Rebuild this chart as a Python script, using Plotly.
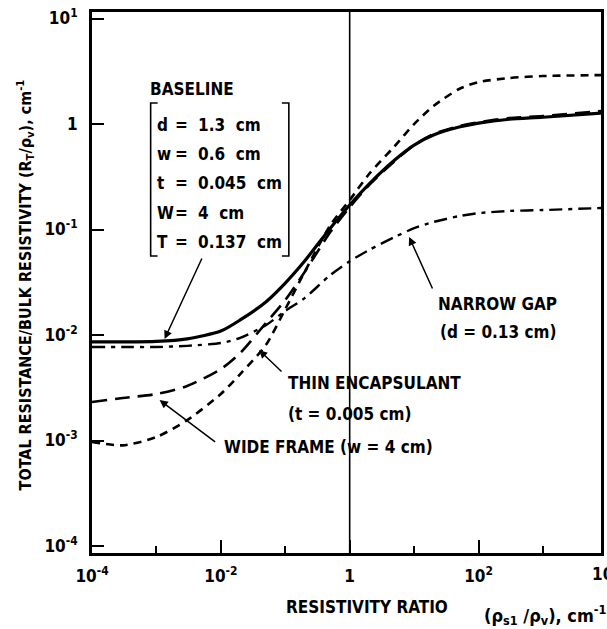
import plotly.graph_objects as go

# ---------------- data ----------------
x_grid = [1e-4, 3e-4, 1e-3, 3e-3, 0.01, 0.02, 0.05, 0.1, 0.2, 0.5, 1, 2, 5, 10, 20, 50, 100, 300, 1000, 8000]

y_baseline = [0.0086, 0.0086, 0.0087, 0.0092, 0.0109, 0.0139, 0.0206, 0.0311, 0.0503, 0.103,
              0.171, 0.27, 0.456, 0.632, 0.787, 0.937, 1.02, 1.11, 1.16, 1.27]
y_narrow_gap = [0.0077, 0.0077, 0.0077, 0.0079, 0.0084, 0.0094, 0.0124, 0.0169, 0.0224, 0.037,
                0.050, 0.064, 0.085, 0.103, 0.118, 0.134, 0.143, 0.150, 0.153, 0.160]
y_thin_encap = [0.00097, 0.00090, 0.00108, 0.00156, 0.00276, 0.00427, 0.00804, 0.0176, 0.0396, 0.110,
                0.190, 0.336, 0.618, 1.0, 1.48, 2.15, 2.50, 2.73, 2.85, 2.91]
y_wide_frame = [0.00232, 0.00253, 0.00276, 0.00329, 0.00476, 0.00675, 0.013, 0.0215, 0.0396, 0.0947,
                0.163, 0.264, 0.446, 0.632, 0.804, 0.957, 1.04, 1.14, 1.19, 1.33]

x_tick_vals = [1e-4, 1e-2, 1, 1e2]
x_tick_text = ["10<sup>-4</sup>", "10<sup>-2</sup>", "1", "10<sup>2</sup>"]
x_minor_vals = [1e-3, 1e-1, 1e1, 1e3]
y_tick_vals = [1e-4, 1e-3, 1e-2, 1e-1, 1, 10]
y_tick_text = ["10<sup>-4</sup>", "10<sup>-3</sup>", "10<sup>-2</sup>", "10<sup>-1</sup>", "1", "10<sup>1</sup>"]

baseline_params = [("d", "1.3  cm"), ("w", "0.6  cm"), ("t", "0.045  cm"), ("W", "4  cm"), ("T", "0.137  cm")]

# ---------------- layout helpers ----------------
W, H = 607, 629
ML, MR, MT, MB = 92, 3, 12, 76
PW, PH = W - ML - MR, H - MT - MB
FONT = "Liberation Sans Narrow, DejaVu Sans Condensed, Roboto Condensed, Liberation Sans, sans-serif"


def px(xp):
    return (xp - ML) / PW


def py(yp):
    return (H - MB - yp) / PH


fig = go.Figure()

fig.add_trace(go.Scatter(x=x_grid, y=y_thin_encap, mode="lines", line_shape="spline",
                         line=dict(color="black", width=2.6, dash="8px,6px", smoothing=0.7)))
fig.add_trace(go.Scatter(x=x_grid, y=y_wide_frame, mode="lines", line_shape="spline",
                         line=dict(color="black", width=2.6, dash="15px,8px", smoothing=0.7)))
fig.add_trace(go.Scatter(x=x_grid, y=y_narrow_gap, mode="lines", line_shape="spline",
                         line=dict(color="black", width=2.4, dash="13px,6px,4px,6px", smoothing=0.7)))
fig.add_trace(go.Scatter(x=x_grid, y=y_baseline, mode="lines", line_shape="spline",
                         line=dict(color="black", width=3.2, smoothing=0.7)))

# vertical reference line at ratio = 1
fig.add_shape(type="line", xref="x", yref="paper", x0=1, x1=1, y0=0, y1=1,
              line=dict(color="black", width=1.6))

anns = []


def text(s, xp, yp, size=17, xanchor="left", **kw):
    anns.append(dict(text=s, x=px(xp), y=py(yp), xref="paper", yref="paper", showarrow=False,
                     xanchor=xanchor, yanchor="middle", font=dict(size=size, family=FONT, color="black",
                                                                  weight="bold"), **kw))


def arrow(tipx, tipy, tailx, taily):
    anns.append(dict(text="", x=px(tipx), y=py(tipy), xref="paper", yref="paper", showarrow=True,
                     ax=tailx - tipx, ay=taily - tipy, arrowhead=2, arrowsize=1.1, arrowwidth=1.5,
                     arrowcolor="black", standoff=0))


text("BASELINE", 148, 89)
rows_y = [125, 154, 183, 213, 242]
for (name, val), yy in zip(baseline_params, rows_y):
    text(name, 155, yy)
    text("=", 182, yy, xanchor="center")
    text(val.replace(" ", "\u00a0"), 197, yy)

text("NARROW GAP", 438, 304)
text("(d = 0.13 cm)", 440, 332)
text("THIN ENCAPSULANT", 287, 383)
text("(t = 0.005 cm)", 287, 414)
text("WIDE FRAME (w = 4 cm)", 223, 447)
text("RESISTIVITY RATIO", 285, 607)
text("(ρ<sub>s1</sub> /ρ<sub>v</sub>), cm<sup>-1</sup>", 484, 615, size=18)
text("10<sup>4</sup>", 593, 573)
anns.append(dict(text="TOTAL RESISTANCE/BULK RESISTIVITY (R<sub>T</sub>/ρ<sub>v</sub>), cm<sup>-1</sup>",
                 x=px(25), y=py(285), xref="paper", yref="paper", showarrow=False, textangle=-90,
                 xanchor="center", yanchor="middle",
                 font=dict(size=16, family=FONT, color="black", weight="bold")))

arrow(165, 339, 203, 257)
arrow(411, 237, 435, 290)
arrow(260, 350, 284, 373)
arrow(160, 400, 217, 443)

# bracket around baseline parameters
for xv, dx in [(151, 7), (290, -7)]:
    fig.add_shape(type="path", xref="paper", yref="paper",
                  path=f"M {px(xv + dx)} {py(103)} L {px(xv)} {py(103)} L {px(xv)} {py(256)} L {px(xv + dx)} {py(256)}",
                  line=dict(color="black", width=1.6))

fig.update_layout(
    width=W, height=H, margin=dict(l=ML, r=MR, t=MT, b=MB),
    paper_bgcolor="white", plot_bgcolor="white", showlegend=False,
    font=dict(family=FONT, size=17, color="black", weight="bold"),
    annotations=anns,
    xaxis=dict(type="log", range=[-4, -4 + PW / 64.8], tickvals=x_tick_vals, ticktext=x_tick_text,
               ticks="inside", ticklen=13, tickwidth=2, tickcolor="black", showgrid=False,
               zeroline=False, showline=True, linecolor="black", linewidth=3, mirror=True,
               ticklabelstandoff=6, tickfont=dict(size=17),
               minor=dict(tickvals=x_minor_vals, ticks="inside", ticklen=7, tickwidth=2, tickcolor="black",
                          showgrid=False)),
    yaxis=dict(type="log", range=[-4.066, 1.062], tickvals=y_tick_vals, ticktext=y_tick_text,
               ticks="inside", ticklen=12, tickwidth=2, tickcolor="black", showgrid=False,
               zeroline=False, showline=True, linecolor="black", linewidth=3, mirror=True,
               ticklabelstandoff=8, tickfont=dict(size=17)),
)

fig.write_html("out.html")
